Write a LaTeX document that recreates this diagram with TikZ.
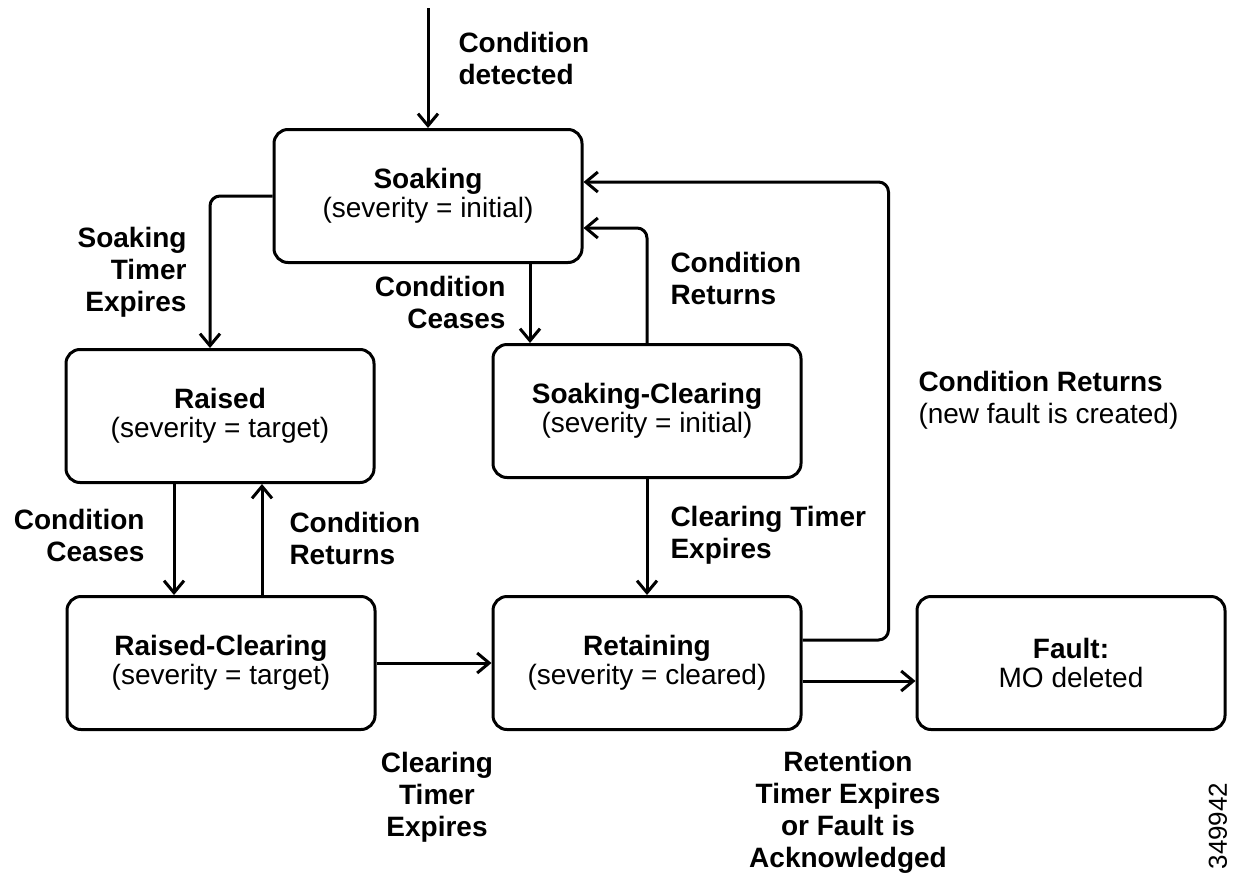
\documentclass[tikz,border=0pt]{standalone}
\usepackage{fontspec}
\setmainfont{Liberation Sans}
\usetikzlibrary{arrows.meta,positioning}

\begin{document}
\begin{tikzpicture}[x=0.5pt, y=-0.5pt, line width=1.5pt, line join=round, >={Straight Barb[length=6pt,width=10pt]}]
	\tikzset{state/.style={draw, rounded corners=7pt, minimum width=154pt, minimum height=66.5pt, align=center, inner sep=2pt, font=\fontsize{14}{14.5}\selectfont},
		lbl/.style={font=\fontsize{14}{16}\selectfont\bfseries, inner sep=0pt},
		link/.style={->, rounded corners=5pt}}
	\useasboundingbox (0,0) rectangle (1236,878);
	% states
	\node[state] (soak) at (428,196) {\textbf{Soaking}\\(severity = initial)};
	\node[state] (raised) at (220,416) {\textbf{Raised}\\(severity = target)};
	\node[state] (sclear) at (647,411) {\textbf{Soaking-Clearing}\\(severity = initial)};
	\node[state] (rclear) at (221,663) {\textbf{Raised-Clearing}\\(severity = target)};
	\node[state] (retain) at (647,663) {\textbf{Retaining}\\(severity = cleared)};
	\node[state] (fault) at (1071,663) {\textbf{Fault:}\\MO deleted};
	\coordinate[above=60pt of soak.north] (start);
	% transitions
	\draw[link] (start) -- (soak.north);
	\draw[link] (soak.west) -| ([xshift=-5pt]raised.north);
	\draw[link] ([xshift=51pt]soak.south) -- ([xshift=51pt]soak.south |- sclear.north);
	\draw[link] (sclear.north) |- ([yshift=-16pt]soak.east);
	\draw[link] ([yshift=11.5pt]retain.east) -- ++(43pt,0) |- ([yshift=7pt]soak.east);
	\draw[link] ([xshift=-23pt]raised.south) -- ([xshift=-23pt]raised.south |- rclear.north);
	\draw[link] ([xshift=21pt]raised.south |- rclear.north) -- ([xshift=21pt]raised.south);
	\draw[link] (sclear.south) -- (retain.north);
	\draw[link] (rclear.east) -- (retain.west);
	\draw[link] ([yshift=-9pt]retain.east) -- ([yshift=-9pt]retain.east -| fault.west);
	% labels
	\node[lbl, anchor=west, align=left] (l-detect) at (457,58) {Condition\\detected};
	\node[lbl, anchor=east, align=right] (l-soaktimer) at (188,272) {Soaking\\Timer\\Expires};
	\node[lbl, anchor=east, align=right] (l-ceases1) at (507,302) {Condition\\Ceases};
	\node[lbl, anchor=west, align=left] (l-returns1) at (669,278) {Condition\\Returns};
	\node[lbl, anchor=west, align=left] (l-newfault) at (917,400) {Condition Returns\\\mdseries(new fault is created)};
	\node[lbl, anchor=east, align=right] (l-ceases2) at (146,535) {Condition\\Ceases};
	\node[lbl, anchor=west, align=left] (l-returns2) at (288,538) {Condition\\Returns};
	\node[lbl, anchor=west, align=left] (l-clear1) at (669,535) {Clearing Timer\\Expires};
	\node[lbl, align=center] (l-clear2) at (437,797) {Clearing\\Timer\\Expires};
	\node[lbl, align=center] (l-retention) at (848,812) {Retention\\Timer Expires\\or Fault is\\Acknowledged};
	\node[rotate=90, inner sep=0pt, font=\fontsize{13}{13}\selectfont] (figid) at (1218,826) {349942};
\end{tikzpicture}
\end{document}
